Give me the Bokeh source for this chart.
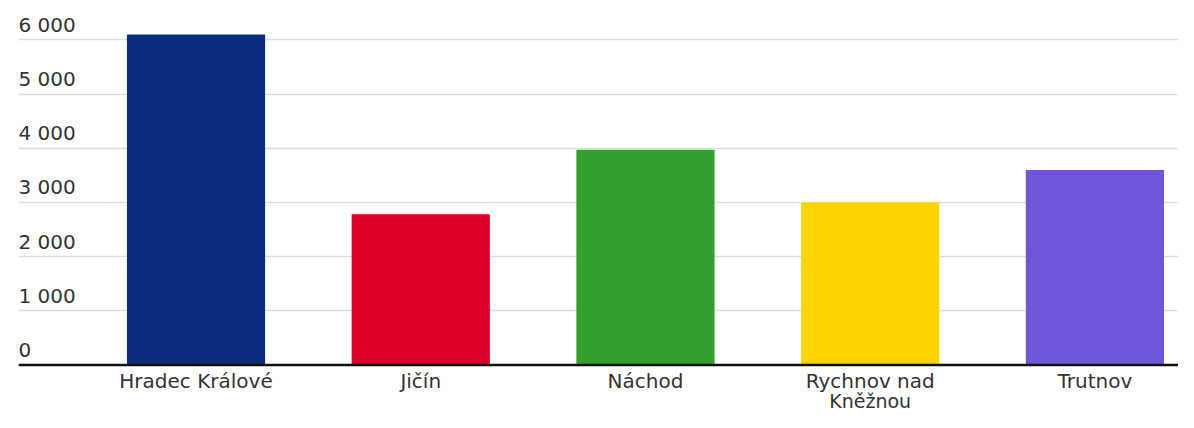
from bokeh.plotting import figure
from bokeh.models import Range1d, FixedTicker, Grid, Span
from bokeh.core.properties import value
from bokeh.embed import file_html
from bokeh.resources import INLINE

# ---- data ----
categories = ["Hradec Králové", "Jičín", "Náchod", "Rychnov nad Kněžnou", "Trutnov"]
label_line1 = ["Hradec Králové", "Jičín", "Náchod", "Rychnov nad", "Trutnov"]
label_line2 = ["", "", "", "Kněžnou", ""]
counts = [6100, 2780, 3970, 3000, 3600]
colors = ["#0c2e7f", "#de0027", "#35a02e", "#fdd400", "#6e55da"]
y_ticks = [0, 1000, 2000, 3000, 4000, 5000, 6000]
y_tick_labels = ["0", "1 000", "2 000", "3 000", "4 000", "5 000", "6 000"]

FONT = "DejaVu Sans"
TEXT_COLOR = "#333333"

x_start, x_end = -0.790, 4.372
p = figure(width=1178, height=412, output_backend="svg", toolbar_location=None,
           x_range=Range1d(x_start, x_end), y_range=Range1d(-876, 6725),
           x_axis_location=None, y_axis_location=None,
           min_border_left=18, min_border_right=0, min_border_top=0, min_border_bottom=0)
p.outline_line_color = None
p.background_fill_color = "white"
p.grid.grid_line_color = None

grid = Grid(dimension=1, ticker=FixedTicker(ticks=y_ticks[1:]),
            grid_line_color="#dddddd", grid_line_width=1.5)
p.add_layout(grid)

xs = list(range(len(categories)))
p.vbar(x=xs, top=counts, bottom=0, width=0.615, fill_color=colors, line_color=None)

p.add_layout(Span(location=0, dimension="width", line_color="#111111", line_width=2.5))

# y tick labels (drawn above gridlines, inside the plot)
p.text(x=[x_start] * len(y_ticks), y=y_ticks, text=y_tick_labels,
       text_align="left", text_baseline="alphabetic", y_offset=-15,
       text_font=value(FONT), text_font_size="20px", text_color=TEXT_COLOR)

# category labels
p.text(x=xs, y=[0] * len(xs), text=label_line1,
       text_align="center", text_baseline="alphabetic", y_offset=16,
       text_font=value(FONT), text_font_size="20px", text_color=TEXT_COLOR)
p.text(x=xs, y=[0] * len(xs), text=label_line2,
       text_align="center", text_baseline="alphabetic", y_offset=35.5,
       text_font=value(FONT), text_font_size="19px", text_color=TEXT_COLOR)

open("out.html", "w").write(file_html(p, INLINE))
